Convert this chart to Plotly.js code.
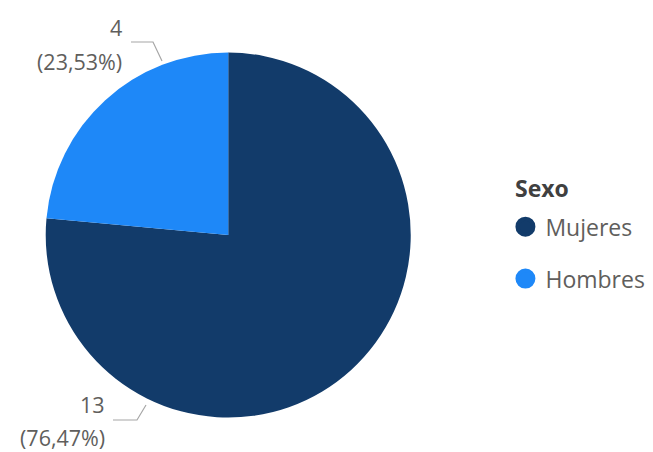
<!DOCTYPE html>
<html><head><meta charset="utf-8">
<script src="https://cdn.plot.ly/plotly-3.0.1.min.js"></script>
<style>html,body{margin:0;padding:0;background:#fff}#c{width:653px;height:452px}</style>
</head><body><div id="c"></div>
<script>
var categories = ["Mujeres", "Hombres"];
var values = [13, 4];
var colors = ["#123B6A", "#1E88F8"];
var legendTitle = "Sexo";

var W = 653, H = 452;
var txtColor = "#605E5C";
var font = "Open Sans, DejaVu Sans, sans-serif";
function px(x){ return x / W; }
function py(y){ return 1 - y / H; }

var total = values.reduce(function(a, b){ return a + b; }, 0);
function pct(v){ return (100 * v / total).toFixed(2).replace(".", ",") + "%"; }

var traces = [{
  type: "pie",
  labels: categories,
  values: values,
  sort: false,
  direction: "clockwise",
  rotation: 0,
  marker: {colors: colors, line: {width: 0}},
  textposition: "none",
  hoverinfo: "none",
  showlegend: false,
  automargin: false,
  domain: {x: [0.070, 0.629], y: [0.075, 0.885]}
}];
categories.forEach(function(c, i){
  traces.push({
    type: "scatter", mode: "markers", x: [null], y: [null],
    name: c, legendgroup: "g" + i,
    marker: {color: colors[i], size: 16, symbol: "circle", line: {color: colors[i], width: 4}},
    showlegend: true, hoverinfo: "none"
  });
});

// label placement (layout only): right edge x, value-line y, percent-line y
var labelPos = {
  "Mujeres": {x: 106, y1: 404, y2: 437},
  "Hombres": {x: 123, y1: 28, y2: 61}
};
var leaderPaths = {
  "Mujeres": [[146, 405], [137, 420], [113, 420]],
  "Hombres": [[131, 42], [153, 42], [162, 61]]
};
var annotations = [], shapes = [];
categories.forEach(function(c, i){
  var p = labelPos[c];
  annotations.push({xref: "paper", yref: "paper", x: px(p.x), y: py(p.y1), xanchor: "right", yanchor: "middle",
    text: String(values[i]), showarrow: false, borderpad: 0, font: {size: 21.5, color: txtColor, family: font}});
  annotations.push({xref: "paper", yref: "paper", x: px(p.x), y: py(p.y2), xanchor: "right", yanchor: "middle",
    text: "(" + pct(values[i]) + ")", showarrow: false, borderpad: 0, font: {size: 21.5, color: txtColor, family: font}});
  var pts = leaderPaths[c];
  var d = pts.map(function(pt, k){ return (k ? "L" : "M") + px(pt[0]) + "," + py(pt[1]); }).join(" ");
  shapes.push({type: "path", xref: "paper", yref: "paper", path: d, line: {color: "#A6A6A6", width: 1.2}});
});
annotations.push({xref: "paper", yref: "paper", x: px(513), y: py(188), xanchor: "left", yanchor: "middle",
  text: "<b>" + legendTitle + "</b>", showarrow: false, font: {size: 23, color: "#404040", family: font}});

var layout = {
  width: W, height: H,
  margin: {l: 0, r: 0, t: 0, b: 0},
  paper_bgcolor: "#fff", plot_bgcolor: "#fff",
  font: {family: font, color: txtColor, size: 16},
  xaxis: {visible: false, domain: [0.8, 0.81]},
  yaxis: {visible: false, domain: [0.5, 0.51]},
  showlegend: true,
  annotations: annotations,
  shapes: shapes,
  legend: {
    x: 0.774, y: 0.546, xanchor: "left", yanchor: "top",
    font: {size: 23, color: txtColor},
    tracegroupgap: 19,
    itemwidth: 30,
    bgcolor: "rgba(0,0,0,0)"
  }
};
Plotly.newPlot("c", traces, layout, {displayModeBar: false, staticPlot: true});
</script></body></html>
